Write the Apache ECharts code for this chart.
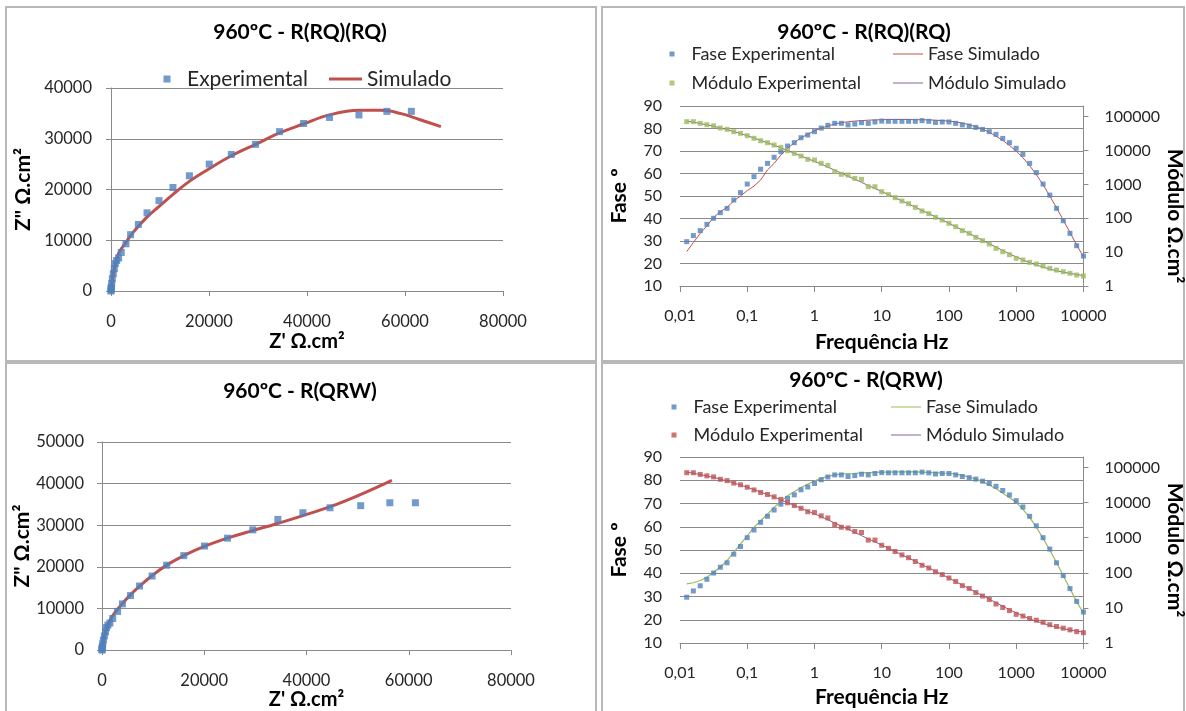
<!DOCTYPE html>
<html><head><meta charset="utf-8">
<script src="https://cdn.jsdelivr.net/npm/echarts@6/dist/echarts.min.js"></script>
<style>html,body{margin:0;padding:0;background:#fff}#c{width:1186px;height:711px}</style>
</head><body><div id="c"></div>
<script>
// ---------- Nyquist data (Z', Z'') ----------
const nyqExperimental = [[0,0],[10,200],[30,500],[60,800],[140,1500],[270,2400],[470,3400],[680,4400],[880,5400],[1150,6000],[1550,6500],[2100,7600],[3050,9300],[4000,11100],[5580,13100],[7350,15400],[9800,17800],[12650,20400],[16000,22700],[20050,25000],[24550,26900],[29500,28900],[34400,31400],[39300,33000],[44600,34200],[50600,34700],[56300,35400],[61300,35400]];
const nyqSimRQRQ = [[0,0],[150,1500],[400,3000],[800,4800],[1500,7300],[3060,9600],[4560,11600],[7280,14500],[10000,16800],[12720,19100],[16120,21700],[20200,24200],[24290,26500],[29730,29000],[34490,31200],[39250,32900],[44580,34700],[50640,35600],[55150,35600],[59030,35000],[62910,33800],[67330,32400]];
const nyqSimQRW = [[0,0],[150,1500],[400,3000],[800,4800],[1500,7000],[2500,9000],[4000,11200],[5500,13200],[7300,15300],[9700,17800],[12500,20300],[16000,22700],[20000,24900],[24500,26900],[29400,28700],[34000,30300],[39000,32200],[44500,34400],[50200,37200],[56700,40800]];

// ---------- Bode data ----------
const freq = [0.0126,0.0158,0.02,0.0251,0.0316,0.0398,0.0501,0.0631,0.0794,0.1,
  0.126,0.158,0.2,0.251,0.316,0.398,0.501,0.631,0.794,1,
  1.26,1.58,2,2.51,3.16,3.98,5.01,6.31,7.94,10,
  12.6,15.8,20,25.1,31.6,39.8,50.1,63.1,79.4,100,
  126,158,200,251,316,398,501,631,794,1000,
  1259,1585,1995,2512,3162,3981,5012,6310,7943,10000];
const faseExperimental = [29.7,32.4,34.6,37.4,40.1,42.6,44.5,48.2,51.5,55.3,
  58.6,61.9,64.5,67.2,69.7,72.2,73.7,75.9,77.1,78.6,
  80.2,81.4,82.3,82.3,81.6,82.0,82.6,82.3,82.9,83.3,
  83.2,83.2,83.2,83.2,83.2,83.5,83.2,82.7,82.9,82.9,
  82.3,81.6,81.1,80.5,79.6,78.6,77.4,75.6,73.7,71.2,
  68.5,64.5,60.4,55.3,50.4,44.5,39.0,33.4,27.9,23.3];
const moduloExperimental = [71300,71300,63700,58100,54200,46300,42400,36100,32300,27500,
  23000,19500,17100,14600,12400,9900,8280,6900,5510,5260,
  4200,3660,2380,1990,1900,1510,1410,857,857,610,
  500,406,324,270,210,164,137,107,88.9,71.0,
  56.5,43.1,35.9,27.4,21.8,17.4,12.9,10.3,8.41,6.56,
  5.86,5.00,4.47,3.90,3.32,2.96,2.65,2.37,2.11,1.97];
const faseSimRQRQ = [25.3,29.3,33.4,36.7,40.5,43.0,45.0,47.8,50.0,52.4,
  54.4,57.1,61.6,64.5,68.2,71.2,73.7,75.9,77.4,79.0,
  80.2,81.1,82.0,82.6,83.0,83.3,83.5,83.7,83.8,83.9,
  84.0,84.0,84.0,84.0,83.9,83.9,83.8,83.7,83.5,83.3,
  82.9,82.4,81.7,80.8,79.7,78.3,76.6,74.7,72.5,70.0,
  67.0,63.5,59.5,55.0,50.0,44.8,39.3,33.8,28.2,23.0];
const moduloSimRQRQ = [74100,69200,63100,57500,52500,46800,41700,36300,31600,27500,
  23400,20000,17000,14500,12000,10000,8320,6920,5750,4790,
  3980,3240,2630,2140,1740,1410,1150,933,759,617,
  501,407,324,263,214,170,138,110,89.1,70.8,
  56.2,44.7,35.5,28.2,22.4,17.8,14.1,11.2,8.91,7.24,
  5.89,4.90,4.17,3.63,3.16,2.82,2.57,2.34,2.19,2.04];
const faseSimQRW = [35.4,35.9,36.9,38.3,40.4,42.6,45.4,49.0,52.6,56.1,
  59.7,62.6,65.4,68.3,70.9,73.3,75.1,76.9,78.3,79.7,
  80.9,81.7,82.3,82.6,82.9,83.0,83.2,83.3,83.4,83.5,
  83.5,83.6,83.6,83.6,83.6,83.5,83.4,83.3,83.1,83.0,
  82.6,82.1,81.4,80.5,79.4,78.0,76.3,74.4,72.6,70.5,
  67.5,64.0,59.8,55.0,50.0,44.6,39.0,33.3,27.8,22.8];
const moduloSimQRW = [74100,69200,63100,57500,52500,46800,41700,36300,31600,27500,
  23400,20000,17000,14500,12000,10000,8320,6920,5750,4790,
  3980,3240,2630,2140,1740,1410,1150,933,759,617,
  501,407,324,263,214,170,138,110,89.1,70.8,
  56.2,44.7,35.5,28.2,22.4,17.8,14.1,11.2,8.91,7.24,
  5.89,4.90,4.17,3.63,3.16,2.82,2.57,2.34,2.19,2.04];
const freqTicks = [0.01,0.1,1,10,100,1000,10000];
const freqTickLabels = ['0,01','0,1','1','10','100','1000','10000'];
const moduloTicks = [1,10,100,1000,10000,100000];
const moduloTickLabels = ['1','10','100','1000','10000','100000'];

// ---------- styling ----------
const FONT = 'Lato, "Open Sans", sans-serif';
const TXT = '#262626';
const AX = '#8a8a8a';
const BLUE = '#4F81BD', RED = '#C0504D', GREEN = '#9BBB59', PURPLE = '#8064A2';
const pair = (xs, ys) => xs.map((x, i) => [x, ys[i]]);
const lbl = (size) => ({fontFamily: FONT, fontSize: size, color: TXT});
const nameStyle = (size, extra) => Object.assign({fontFamily: FONT, fontWeight: 'bold', fontSize: size, color: '#000'}, extra || {});

function freqLabel(v) {
  const e = Math.round(Math.log10(v));
  const i = freqTicks.findIndex(t => Math.round(Math.log10(t)) === e);
  return i >= 0 ? freqTickLabels[i] : '';
}
function modLabel(v) {
  const e = Math.round(Math.log10(v));
  if (Math.abs(Math.log10(v) - e) > 1e-6) return '';
  const i = moduloTicks.findIndex(t => Math.round(Math.log10(t)) === e);
  return i >= 0 ? moduloTickLabels[i] : '';
}

function nyqX(gi, gap) {
  return {type: 'value', gridIndex: gi, min: 0, max: 80000, interval: 20000,
    name: "Z' Ω.cm²", nameLocation: 'middle', nameGap: gap, nameTextStyle: nameStyle(20),
    axisLine: {show: true, onZero: false, lineStyle: {color: AX, width: 1}},
    axisTick: {show: true, length: 5, lineStyle: {color: AX}},
    axisLabel: Object.assign(lbl(16.5), {margin: 22, formatter: v => String(v)}),
    splitLine: {show: false}};
}
function nyqY(gi, max, gap, margin) {
  return {type: 'value', gridIndex: gi, min: 0, max: max, interval: 10000,
    name: 'Z" Ω.cm²', nameLocation: 'middle', nameGap: gap, nameRotate: 90, nameTextStyle: nameStyle(21),
    axisLine: {show: true, onZero: false, lineStyle: {color: AX, width: 1}},
    axisTick: {show: true, length: 5, lineStyle: {color: AX}},
    axisLabel: Object.assign(lbl(16.5), {margin: margin, formatter: v => String(v)}),
    splitLine: {show: true, lineStyle: {color: AX, width: 1}}};
}
function bodeX(gi, gap) {
  return {type: 'log', gridIndex: gi, min: 0.01, max: 10000, logBase: 10,
    name: 'Frequência Hz', nameLocation: 'middle', nameGap: gap, nameTextStyle: nameStyle(21),
    axisLine: {show: true, onZero: false, lineStyle: {color: AX, width: 1}},
    axisTick: {show: true, length: 6, lineStyle: {color: AX}, customValues: freqTicks},
    axisLabel: Object.assign(lbl(16), {margin: 22, formatter: freqLabel, customValues: freqTicks}),
    minorTick: {show: false}, splitLine: {show: false}};
}
function bodeYL(gi, gap) {
  return {type: 'value', gridIndex: gi, min: 10, max: 90, interval: 10, position: 'left',
    name: 'Fase º', nameLocation: 'middle', nameGap: gap, nameRotate: 90, nameTextStyle: nameStyle(21),
    axisLine: {show: false}, axisTick: {show: false},
    axisLabel: Object.assign(lbl(16), {margin: 18}),
    splitLine: {show: true, lineStyle: {color: AX, width: 1}}};
}
function bodeYR(gi, max, gap, shift) {
  return {type: 'log', gridIndex: gi, min: 1, max: max, logBase: 10, position: 'right',
    name: 'Módulo Ω.cm²', nameLocation: 'middle', nameGap: gap, nameRotate: -90,
    nameTextStyle: nameStyle(21, {padding: [0, 0, 0, shift]}),
    axisLine: {show: true, onZero: false, lineStyle: {color: AX, width: 1}},
    axisTick: {show: true, length: 5, lineStyle: {color: AX}, customValues: moduloTicks},
    axisLabel: Object.assign(lbl(16), {margin: 21, formatter: modLabel, customValues: moduloTicks}),
    minorTick: {show: false}, splitLine: {show: false}};
}
// legend with a square marker: icon box is square, text pushed right with padding
function legMarker(name, left, top, s, pad, size, lh, color) {
  const d = {name: name, icon: 'rect'};
  if (color) d.itemStyle = {color: color};
  return {data: [d], left: left, top: top, padding: 0, itemWidth: s, itemHeight: s,
    selectedMode: false, symbolKeepAspect: false,
    textStyle: {fontFamily: FONT, fontSize: size, color: TXT, lineHeight: lh, padding: [0, 0, 0, pad]}};
}
// legend with a line: a thin bar icon
function legLine(name, left, top, w, thick, size, lh, color) {
  const d = {name: name, icon: 'rect'};
  if (color) { d.itemStyle = {color: color}; d.lineStyle = {color: color}; }
  return {data: [d], left: left, top: top, padding: 0, itemWidth: w, itemHeight: thick,
    selectedMode: false, symbolKeepAspect: false,
    textStyle: {fontFamily: FONT, fontSize: size, color: TXT, lineHeight: lh}};
}
function border(x, y, w, h) {
  return {type: 'rect', silent: true, z: -10,
    shape: {x: x, y: y, width: w, height: h},
    style: {fill: 'none', stroke: '#b8b8b8', lineWidth: 2}};
}
const titleStyle = {fontFamily: FONT, fontWeight: 'bold', fontSize: 21, color: '#000'};

const option = {
  animation: false,
  backgroundColor: '#ffffff',
  graphic: [border(6, 7, 590, 354), border(602, 7, 582, 354), border(6, 363, 590, 360), border(602, 363, 582, 360)],
  title: [
    {text: '960ºC - R(RQ)(RQ)', left: 300, top: 22, textAlign: 'center', padding: 0, textStyle: titleStyle},
    {text: '960ºC - R(RQ)(RQ)', left: 864, top: 22, textAlign: 'center', padding: 0, textStyle: titleStyle},
    {text: '960ºC - R(QRW)', left: 300, top: 381, textAlign: 'center', padding: 0, textStyle: titleStyle},
    {text: '960ºC - R(QRW)', left: 866, top: 370, textAlign: 'center', padding: 0, textStyle: titleStyle}
  ],
  legend: [
    legMarker('Experimental', 163.5, 68, 7, 11.5, 21, 22),
    legLine('Simulado', 329, 68, 33, 3, 21, 22, RED),
    legMarker('Fase Experimental', 669.5, 44, 5, 12, 18, 20),
    legLine('Fase Simulado', 893, 44, 30, 1, 18, 20, RED),
    legMarker('Módulo Experimental', 669.5, 73, 5, 12, 18, 20, GREEN),
    legLine('Módulo Simulado', 893, 73, 30, 1, 18, 20, PURPLE),
    legMarker('Fase Experimental', 671.5, 397, 5, 12, 18, 20),
    legLine('Fase Simulado', 891, 397, 30, 1, 18, 20, GREEN),
    legMarker('Módulo Experimental', 671.5, 425, 5, 12, 18, 20, RED),
    legLine('Módulo Simulado', 891, 425, 30, 1, 18, 20, PURPLE)
  ],
  grid: [
    {left: 111, top: 88, width: 392, height: 203},
    {left: 680, top: 106, width: 405, height: 180},
    {left: 102, top: 442, width: 409, height: 209},
    {left: 680, top: 457, width: 405, height: 186}
  ],
  xAxis: [nyqX(0, 41), bodeX(1, 46), nyqX(2, 39), bodeX(3, 44)],
  yAxis: [nyqY(0, 40000, 77, 19), bodeYL(1, 50), bodeYR(1, 207000, 74, 40),
          nyqY(2, 50000, 68, 18), bodeYL(3, 50), bodeYR(3, 200000, 74, 0)],
  series: [
    {type: 'line', name: 'Simulado', xAxisIndex: 0, yAxisIndex: 0, data: nyqSimRQRQ, symbol: 'none', smooth: 0.4,
     lineStyle: {color: RED, width: 3}, itemStyle: {color: RED}, z: 2},
    {type: 'scatter', name: 'Experimental', xAxisIndex: 0, yAxisIndex: 0, data: nyqExperimental,
     symbol: 'rect', symbolSize: 7, itemStyle: {color: BLUE}, z: 3},

    {type: 'line', name: 'Fase Simulado', xAxisIndex: 1, yAxisIndex: 1, data: pair(freq, faseSimRQRQ), symbol: 'none',
     lineStyle: {color: RED, width: 1}, itemStyle: {color: RED}, z: 2},
    {type: 'scatter', name: 'Fase Experimental', xAxisIndex: 1, yAxisIndex: 1, data: pair(freq, faseExperimental),
     symbol: 'rect', symbolSize: 5, itemStyle: {color: BLUE}, z: 3},
    {type: 'line', name: 'Módulo Simulado', xAxisIndex: 1, yAxisIndex: 2, data: pair(freq, moduloSimRQRQ), symbol: 'none',
     lineStyle: {color: PURPLE, width: 1}, itemStyle: {color: PURPLE}, z: 2},
    {type: 'scatter', name: 'Módulo Experimental', xAxisIndex: 1, yAxisIndex: 2, data: pair(freq, moduloExperimental),
     symbol: 'rect', symbolSize: 5, itemStyle: {color: GREEN}, z: 3},

    {type: 'line', name: 'Simulado', xAxisIndex: 2, yAxisIndex: 3, data: nyqSimQRW, symbol: 'none', smooth: 0.4,
     lineStyle: {color: RED, width: 3}, itemStyle: {color: RED}, z: 2},
    {type: 'scatter', name: 'Experimental', xAxisIndex: 2, yAxisIndex: 3, data: nyqExperimental,
     symbol: 'rect', symbolSize: 7, itemStyle: {color: BLUE}, z: 3},

    {type: 'line', name: 'Fase Simulado', xAxisIndex: 3, yAxisIndex: 4, data: pair(freq, faseSimQRW), symbol: 'none',
     lineStyle: {color: GREEN, width: 1.2}, itemStyle: {color: GREEN}, z: 2},
    {type: 'scatter', name: 'Fase Experimental', xAxisIndex: 3, yAxisIndex: 4, data: pair(freq, faseExperimental),
     symbol: 'rect', symbolSize: 5, itemStyle: {color: BLUE}, z: 3},
    {type: 'line', name: 'Módulo Simulado', xAxisIndex: 3, yAxisIndex: 5, data: pair(freq, moduloSimQRW), symbol: 'none',
     lineStyle: {color: PURPLE, width: 1}, itemStyle: {color: PURPLE}, z: 2},
    {type: 'scatter', name: 'Módulo Experimental', xAxisIndex: 3, yAxisIndex: 5, data: pair(freq, moduloExperimental),
     symbol: 'rect', symbolSize: 5, itemStyle: {color: RED}, z: 3}
  ]
};
const chart = echarts.init(document.getElementById('c'), null, {renderer: 'canvas'});
chart.setOption(option);
</script>
</body></html>
